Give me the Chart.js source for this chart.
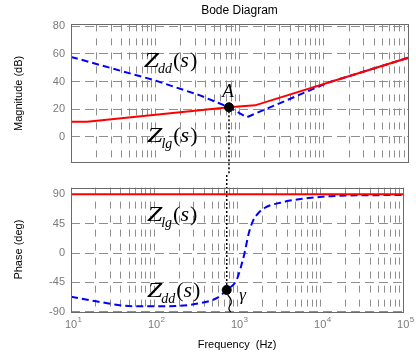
<!DOCTYPE html>
<html>
<head>
<meta charset="utf-8">
<script src="https://cdn.jsdelivr.net/npm/chart.js@4/dist/chart.umd.min.js"></script>
<style>
  html, body { margin: 0; padding: 0; background: #fff; }
  #wrap { position: relative; width: 416px; height: 355px; overflow: hidden; }
  #mag { position: absolute; left: 0; top: 0; }
  #phase { position: absolute; left: 0; top: 175px; }
</style>
</head>
<body>
<div id="wrap">
  <canvas id="mag" width="416" height="175"></canvas>
  <canvas id="phase" width="416" height="180"></canvas>
</div>
<script>
// magnitude (dB)
const lgMagFreq = [10, 15.5, 750, 1530, 100000];
const lgMagDb = [10.9, 11, 21.4, 22.8, 57.2];
const ddMagFreq = [10, 100, 340, 750, 1220, 11200, 100000];
const ddMagDb = [57.9, 40.8, 30, 21.4, 14.2, 39.2, 57.2];

// phase (deg)
const lgPhaseFreq = [10, 100000];
const lgPhaseDeg = [90, 90];
const ddPhaseFreq = [10, 22, 55, 138, 340, 590, 750, 980, 1120, 1230, 1380, 1550, 1860, 2140, 2630, 3310, 4170, 5250, 8320, 14800, 100000];
const ddPhaseDeg = [-67, -75, -81.5, -81.5, -77.5, -68, -56.7, -42, -20, 0, 30, 49, 63, 69, 74, 77, 80, 82, 85, 87.5, 89];

// point A (crossing)
const crossFreq = [750];
const crossMag = [21.4];
const crossPhase = [-56.7];

// ticks
const decades = [10, 100, 1000, 10000, 100000];
const decadeExp = ['1', '2', '3', '4', '5'];
const magTicks = [0, 20, 40, 60, 80];
const phaseTicks = [-90, -45, 0, 45, 90];

const freqTicks = [];
decades.forEach(d => {
  for (let m = 1; m < 10; m++) {
    if (d * m <= 100000) freqTicks.push(d * m);
  }
});

Chart.defaults.font.family = '"Liberation Sans", Arial, sans-serif';
Chart.defaults.font.size = 11;

const RED = '#ff0000';
const BLUE = '#0000ff';
const GRID = '#8e8e8e';
const TICK = '#7a7a7a';

function pts(xs, ys) {
  return xs.map((x, i) => ({ x: x, y: ys[i] }));
}

function drawImpedance(ctx, x, y, sub) {
  ctx.save();
  ctx.fillStyle = '#000';
  ctx.textAlign = 'left';
  ctx.textBaseline = 'alphabetic';
  ctx.font = 'italic 22px "Liberation Serif"';
  ctx.save();
  ctx.translate(x, y);
  ctx.scale(1.25, 1);
  ctx.fillText('Z', 0, 0);
  ctx.restore();
  let cx = x + ctx.measureText('Z').width * 1.25 - 1;
  ctx.font = 'italic 14px "Liberation Serif"';
  ctx.fillText(sub, cx, y + 6);
  cx += ctx.measureText(sub).width + 1;
  ctx.font = '22px "Liberation Serif"';
  ctx.fillText('(', cx, y);
  cx += ctx.measureText('(').width;
  ctx.font = 'italic 22px "Liberation Serif"';
  ctx.fillText('s', cx, y);
  cx += ctx.measureText('s').width + 1;
  ctx.font = '22px "Liberation Serif"';
  ctx.fillText(')', cx, y);
  ctx.restore();
}

function drawBox(chart) {
  const { ctx, chartArea: a } = chart;
  ctx.save();
  ctx.strokeStyle = '#6a6a6a';
  ctx.lineWidth = 1;
  ctx.strokeRect(Math.round(a.left) + 0.5, Math.round(a.top) + 0.5,
    Math.round(a.right - a.left), Math.round(a.bottom - a.top));
  ctx.restore();
}

function dotted(ctx, x, y1, y2) {
  ctx.save();
  ctx.strokeStyle = '#000';
  ctx.lineWidth = 1.5;
  ctx.setLineDash([2, 2]);
  ctx.beginPath();
  ctx.moveTo(x, y1);
  ctx.lineTo(x, y2);
  ctx.stroke();
  ctx.restore();
}

const xAxisBase = {
  type: 'logarithmic',
  min: 10,
  max: 100000,
  afterBuildTicks: s => { s.ticks = freqTicks.map(v => ({ value: v })); },
  grid: { color: GRID, lineWidth: 1, drawTicks: false },
  border: { display: false, dash: [7, 7] }
};

const magPlugin = {
  id: 'magExtras',
  beforeDatasetsDraw(chart) {
    const { ctx, scales: { x, y } } = chart;
    const px = x.getPixelForValue(crossFreq[0]);
    dotted(ctx, px, y.getPixelForValue(crossMag[0]), chart.height);
  },
  afterDraw(chart) {
    const { ctx, scales: { x, y } } = chart;
    drawBox(chart);
    drawImpedance(ctx, x.getPixelForValue(73), y.getPixelForValue(50.6), 'dd');
    drawImpedance(ctx, x.getPixelForValue(80), y.getPixelForValue(-3.6), 'lg');
    ctx.save();
    ctx.fillStyle = '#000';
    ctx.font = 'italic 19px "Liberation Serif"';
    ctx.textAlign = 'center';
    ctx.fillText('A', x.getPixelForValue(730), y.getPixelForValue(28.9));
    ctx.restore();
  }
};

const phasePlugin = {
  id: 'phaseExtras',
  beforeDatasetsDraw(chart) {
    const { ctx, scales: { x, y } } = chart;
    const px = x.getPixelForValue(crossFreq[0]);
    dotted(ctx, px, 0, y.getPixelForValue(crossPhase[0]));
  },
  afterDraw(chart) {
    const { ctx, scales: { x, y } } = chart;
    drawBox(chart);
    drawImpedance(ctx, x.getPixelForValue(82), y.getPixelForValue(49.7), 'lg');
    drawImpedance(ctx, x.getPixelForValue(82), y.getPixelForValue(-67.7), 'dd');

    // small angle mark + gamma
    const px = x.getPixelForValue(crossFreq[0]);
    const py = y.getPixelForValue(crossPhase[0]);
    ctx.save();
    ctx.strokeStyle = '#000';
    ctx.lineWidth = 1.2;
    ctx.beginPath();
    ctx.moveTo(px + 1, py + 5);
    ctx.quadraticCurveTo(px + 7, py + 11, px + 3, py + 16);
    ctx.quadraticCurveTo(px + 1, py + 19, px + 4, py + 22);
    ctx.stroke();
    ctx.fillStyle = '#000';
    ctx.font = 'italic 17px "Liberation Serif"';
    ctx.textAlign = 'left';
    ctx.fillText('\u03b3', x.getPixelForValue(1062), y.getPixelForValue(-72.8));

    // decade exponents
    ctx.fillStyle = TICK;
    ctx.font = '8px "Liberation Sans", Arial, sans-serif';
    ctx.textBaseline = 'middle';
    const ly = chart.chartArea.bottom + 6.7 + 6.6 - 5;
    decades.forEach((d, i) => {
      ctx.fillText(decadeExp[i], x.getPixelForValue(d) + 6.5, ly);
    });
    ctx.restore();
  }
};

new Chart(document.getElementById('mag'), {
  type: 'line',
  data: {
    datasets: [
      { data: pts(crossFreq, crossMag), showLine: false, pointRadius: 4.5,
        pointBackgroundColor: '#000', pointBorderColor: '#000', order: 0 },
      { data: pts(lgMagFreq, lgMagDb), borderColor: RED, borderWidth: 2,
        pointRadius: 0, tension: 0, order: 1 },
      { data: pts(ddMagFreq, ddMagDb), borderColor: BLUE, borderWidth: 2,
        borderDash: [7, 4], pointRadius: 0, tension: 0, order: 2 }
    ]
  },
  options: {
    responsive: false,
    animation: false,
    layout: { padding: { left: 0, right: 8, top: 0, bottom: 4 } },
    plugins: {
      legend: { display: false },
      tooltip: { enabled: false },
      title: {
        display: true, text: 'Bode Diagram', color: '#000', fullSize: false,
        font: { size: 12, weight: 'normal' }, padding: { top: 3, bottom: 7 }
      }
    },
    scales: {
      x: Object.assign({}, xAxisBase, {
        ticks: { display: false },
        afterFit: s => { s.height = 0; }
      }),
      y: {
        min: -18.5,
        max: 81.4,
        afterBuildTicks: s => { s.ticks = magTicks.map(v => ({ value: v })); },
        afterFit: s => { s.width = 71; },
        ticks: { color: TICK, padding: 6 },
        grid: { color: GRID, lineWidth: 1, drawTicks: false },
        border: { display: false, dash: [9, 5] },
        title: { display: true, text: 'Magnitude (dB)', color: '#000', padding: { top: 12, bottom: 0 } }
      }
    }
  },
  plugins: [magPlugin]
});

new Chart(document.getElementById('phase'), {
  type: 'line',
  data: {
    datasets: [
      { data: pts(crossFreq, crossPhase), showLine: false, pointRadius: 4.5,
        pointBackgroundColor: '#000', pointBorderColor: '#000', order: 0 },
      { data: pts(lgPhaseFreq, lgPhaseDeg), borderColor: RED, borderWidth: 2,
        pointRadius: 0, tension: 0, order: 1 },
      { data: pts(ddPhaseFreq, ddPhaseDeg), borderColor: BLUE, borderWidth: 2,
        borderDash: [7, 4], pointRadius: 0, cubicInterpolationMode: 'monotone', order: 2 }
    ]
  },
  options: {
    responsive: false,
    animation: false,
    layout: { padding: { left: 0, right: 8, top: 7, bottom: 0 } },
    plugins: {
      legend: { display: false },
      tooltip: { enabled: false }
    },
    scales: {
      x: Object.assign({}, xAxisBase, {
        ticks: {
          color: TICK, padding: 6.7, autoSkip: false, maxRotation: 0,
          callback: v => (decades.includes(v) ? '10' : '')
        },
        afterFit: s => { s.height = 43.3; },
        title: { display: true, text: 'Frequency  (Hz)', color: '#000', padding: { top: 0, bottom: 3.4 } }
      }),
      y: {
        min: -90,
        max: 100.3,
        afterBuildTicks: s => { s.ticks = phaseTicks.map(v => ({ value: v })); },
        afterFit: s => { s.width = 71; },
        ticks: { color: TICK, padding: 6 },
        grid: { color: GRID, lineWidth: 1, drawTicks: false },
        border: { display: false, dash: [9, 5] },
        title: { display: true, text: 'Phase (deg)', color: '#000', padding: { top: 12, bottom: 0 } }
      }
    }
  },
  plugins: [phasePlugin]
});
</script>
</body>
</html>
